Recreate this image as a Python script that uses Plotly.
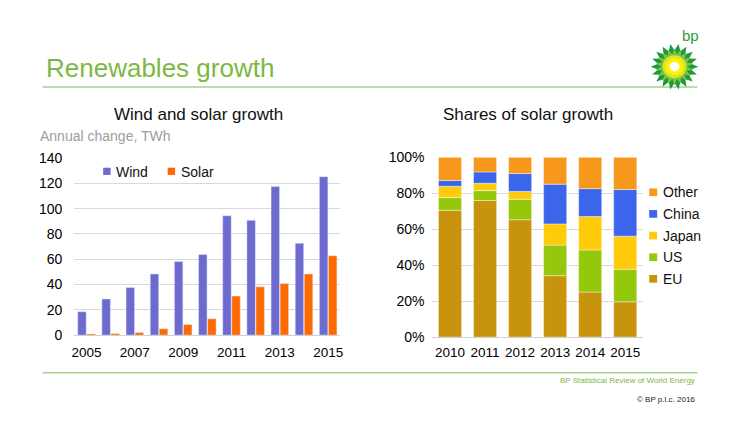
import numpy as np
import plotly.graph_objects as go

# ---- data ----
years_ws = [2005, 2006, 2007, 2008, 2009, 2010, 2011, 2012, 2013, 2014, 2015]
wind = [18.5, 28.6, 37.7, 48.4, 58.2, 63.8, 94.4, 90.9, 117.5, 72.7, 125.3]
solar = [1.0, 1.3, 2.0, 5.0, 8.4, 12.9, 30.9, 38.2, 40.8, 48.4, 62.8]
ws_tick_years = [2005, 2007, 2009, 2011, 2013, 2015]

years_sh = ["2010", "2011", "2012", "2013", "2014", "2015"]
eu = [70.5, 75.9, 65.2, 34.1, 25.0, 19.6]
us = [7.0, 5.5, 11.4, 17.0, 23.4, 18.1]
japan = [6.3, 4.1, 4.3, 11.8, 18.6, 18.4]
china = [3.2, 6.3, 10.0, 22.1, 15.5, 25.9]
other = [13.0, 8.2, 9.1, 15.0, 17.5, 18.0]

W, H = 739, 423
FONT = "Liberation Sans, Arial, sans-serif"
GREEN = "#7DB843"
LINEGREEN = "#A9D18E"

def px(x):
    return x / W

def py(y):
    return 1 - y / H

fig = go.Figure()

ws_series = [("Wind", wind, "#6D6BCF"), ("Solar", solar, "#FF6A00")]
for name, vals, col in ws_series:
    fig.add_trace(go.Bar(x=years_ws, y=vals, name=name, marker_color=col,
                         xaxis="x", yaxis="y", showlegend=False))

sh_series = [("EU", eu, "#C8940E"), ("US", us, "#95C80A"),
             ("Japan", japan, "#FFCB0A"), ("China", china, "#3B66EC"),
             ("Other", other, "#F7981D")]
bases = [0.0] * len(years_sh)
for name, vals, col in sh_series:
    fr = [v / 100 for v in vals]
    fig.add_trace(go.Bar(x=years_sh, y=fr, base=list(bases), name=name,
                         marker=dict(color=col, line=dict(color="rgba(255,255,255,0.7)", width=0.6)),
                         offsetgroup="s", width=0.66,
                         xaxis="x2", yaxis="y2", showlegend=False))
    bases = [b + v for b, v in zip(bases, fr)]

xtickfont = dict(family=FONT, size=13.5, color="#000")
ytickfont = dict(family=FONT, size=14, color="#000")

fig.update_layout(
    width=W, height=H,
    margin=dict(l=0, r=0, t=0, b=0),
    paper_bgcolor="white", plot_bgcolor="white",
    barmode="group", bargap=0.25, bargroupgap=0.06,
    font=dict(family=FONT),
    xaxis=dict(domain=[px(72), px(340)], range=[2004.5, 2015.5],
               tickvals=ws_tick_years, ticktext=[str(y) for y in ws_tick_years],
               tickfont=xtickfont, showgrid=False, showline=True, linecolor="#d0d0d0",
               ticks="", ticklabelstandoff=5, anchor="y"),
    yaxis=dict(domain=[py(340), py(156)], range=[0, 140], dtick=20,
               tickfont=ytickfont, gridcolor="#d9d9d9", zeroline=False,
               ticks="", ticklabelstandoff=11, anchor="x"),
    xaxis2=dict(domain=[px(433), px(645)], tickfont=xtickfont, showgrid=False,
                showline=True, linecolor="#d0d0d0", ticks="", ticklabelstandoff=3, anchor="y2"),
    yaxis2=dict(domain=[py(342), py(155)], range=[0, 1], dtick=0.2,
                tickformat=".0%", tickfont=ytickfont, gridcolor="#d9d9d9",
                zeroline=False, ticks="", ticklabelstandoff=7, anchor="x2"),
)

annotations = [
    dict(text="Renewables growth", x=px(41), y=py(62), xanchor="left", yanchor="middle",
         font=dict(family=FONT, size=26, color=GREEN)),
    dict(text="Wind and solar growth", x=px(197), y=py(111), xanchor="center", yanchor="middle",
         font=dict(family=FONT, size=17, color="#111")),
    dict(text="Annual change, TWh", x=px(35), y=py(133), xanchor="left", yanchor="middle",
         font=dict(family=FONT, size=14, color="#9d9d9d")),
    dict(text="Shares of solar growth", x=px(529), y=py(111), xanchor="center", yanchor="middle",
         font=dict(family=FONT, size=17, color="#111")),
    dict(text="BP Statistical Review of World Energy", x=px(700), y=py(387), xanchor="right",
         yanchor="middle", font=dict(family=FONT, size=8, color=GREEN)),
    dict(text="© BP p.l.c. 2016", x=px(700), y=py(407), xanchor="right",
         yanchor="middle", font=dict(family=FONT, size=8, color="#222")),
    dict(text="bp", x=px(693), y=py(29), xanchor="center", yanchor="middle",
         font=dict(family=FONT, size=15, color="#2E9B3A")),
]

shapes = [
    dict(type="line", x0=px(40), x1=px(700), y0=py(82), y1=py(82), line=dict(color=LINEGREEN, width=1.5)),
    dict(type="line", x0=px(40), x1=px(700), y0=py(379), y1=py(379), line=dict(color=LINEGREEN, width=1.5)),
]

# legends (left: horizontal; right: vertical, reversed)
leg_left_x = [101, 166]
for (name, _, col), lx in zip(ws_series, leg_left_x):
    shapes.append(dict(type="rect", x0=px(lx), x1=px(lx + 7.5), y0=py(173.5), y1=py(166),
                       fillcolor=col, line=dict(width=0)))
    annotations.append(dict(text=name, x=px(lx + 11), y=py(170), xanchor="left", yanchor="middle",
                            font=dict(family=FONT, size=14, color="#111")))
for i, (name, _, col) in enumerate(reversed(sh_series)):
    yc = 191.5 + i * 22.5
    shapes.append(dict(type="rect", x0=px(651.5), x1=px(659.5), y0=py(yc + 4), y1=py(yc - 4),
                       fillcolor=col, line=dict(width=0)))
    annotations.append(dict(text=name, x=px(663), y=py(yc), xanchor="left", yanchor="middle",
                            font=dict(family=FONT, size=14, color="#111")))

# BP helios logo (decorative)
cx, cy = 677, 61
def star(r_out, r_in, n, rot=0.0):
    pts = []
    for i in range(2 * n):
        r = r_out if i % 2 == 0 else r_in
        a = rot + np.pi * i / n
        pts.append((cx + r * np.cos(a), cy + r * np.sin(a)))
    return "M " + " L ".join(f"{px(x):.5f},{py(y):.5f}" for x, y in pts) + " Z"

shapes.append(dict(type="path", path=star(24, 17, 18), fillcolor="#1F9A3A", line=dict(width=0)))
shapes.append(dict(type="path", path=star(19, 13, 18, np.pi / 18), fillcolor="#7DC242", line=dict(width=0)))
for r, col in [(12, "#D7E629"), (9, "#FFF200"), (5, "#FFFFFF")]:
    shapes.append(dict(type="circle", x0=px(cx - r), x1=px(cx + r), y0=py(cy + r), y1=py(cy - r),
                       fillcolor=col, line=dict(width=0)))

for a in annotations:
    a.update(xref="paper", yref="paper", showarrow=False)
for s in shapes:
    s.update(xref="paper", yref="paper")
fig.update_layout(annotations=annotations, shapes=shapes)

fig.write_html("out.html", config={"displayModeBar": False},
               post_script="document.body.style.margin='0';document.body.style.overflow='hidden';")
